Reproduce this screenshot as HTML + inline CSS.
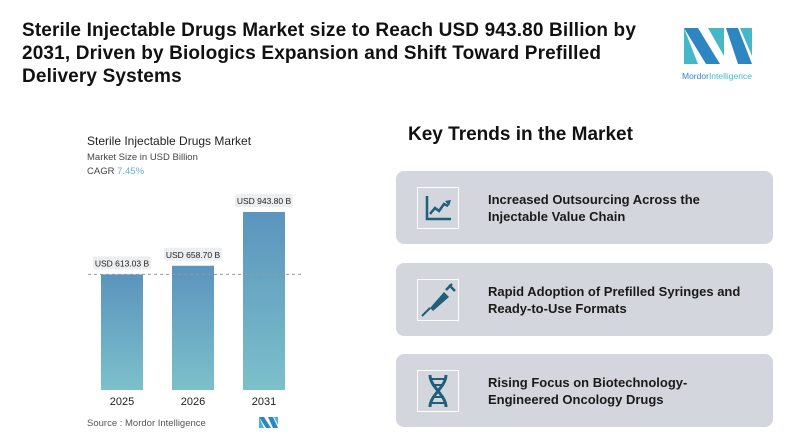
<!DOCTYPE html>
<html><head><meta charset="utf-8"><style>
body{margin:0;width:800px;height:446px;background:#fff;font-family:"Liberation Sans",sans-serif;overflow:hidden;position:relative}
.a{position:absolute}
.title{left:22px;top:19px;width:660px;font-weight:bold;font-size:19px;letter-spacing:0.15px;line-height:23px;color:#111;white-space:nowrap}
.card{left:396px;width:377px;height:73px;background:#d3d6dc;border-radius:8px}
.ib{left:21px;top:16px;width:40px;height:40px;border:1.5px solid #fff;background:#d3d6dc}
.ct{left:92px;top:20px;font-weight:bold;font-size:13px;line-height:17px;color:#1a1a1a}
</style></head><body>
<div class="a title">Sterile Injectable Drugs Market size to Reach USD 943.80 Billion by<br>2031, Driven by Biologics Expansion and Shift Toward Prefilled<br>Delivery Systems</div>
<svg class="a" style="left:680px;top:26px" width="90" height="60">
<polygon points="4,2 18,2 40,38 26,38" fill="#2e86c1"/><polygon points="4,2 4,38 18,38" fill="#45b8c8"/>
<polygon points="28,2 44,2 44,30" fill="#45b8c8"/><polygon points="46,2 58,2 72,38 58,38" fill="#2e86c1"/><polygon points="60,2 72,2 72,30" fill="#45b8c8"/>
<text x="2" y="53" font-size="8.5" fill="#2e86c1" font-family="Liberation Sans">Mordor<tspan fill="#45b8c8">Intelligence</tspan></text></svg>
<div class="a" style="left:87px;top:134px;font-size:12px;color:#222">Sterile Injectable Drugs Market</div>
<div class="a" style="left:87px;top:152px;font-size:9.5px;color:#444">Market Size in USD Billion</div>
<div class="a" style="left:87px;top:166px;font-size:9.5px;color:#444">CAGR <span style="color:#6ab0c8">7.45%</span></div>
<svg id="ch" class="a" style="left:0;top:0" width="400" height="446">
<defs><linearGradient id="g" x1="0" y1="0" x2="0" y2="1"><stop offset="0" stop-color="#5b94bd"/><stop offset="1" stop-color="#7cc0cb"/></linearGradient></defs>
<g><polygon points="259,417 264,417 271,428 266,428" fill="#2e86c1"/><polygon points="259,417 259,428 264,428" fill="#45b8c8"/><polygon points="268,417 273,417 278,428 273,428" fill="#2e86c1"/><polygon points="274,417 278,417 278,425" fill="#45b8c8"/></g>
</svg>
<div class="a" style="left:87px;top:418px;font-size:9.5px;color:#555">Source : Mordor Intelligence</div>
<div class="a" style="left:408px;top:124px;font-size:19px;font-weight:bold;color:#111">Key Trends in the Market</div>
<div class="a card" style="top:171px"><div class="a ib"><svg width="40" height="40"><path d="M9 8V31H33" stroke="#1f5f7a" stroke-width="2.5" fill="none"/><path d="M12 26L17 20L21 23L26 16L30 18" stroke="#1f5f7a" stroke-width="2.5" fill="none"/><polygon points="27,13 33,12 31,18" fill="#1f5f7a"/></svg></div><div class="a ct">Increased Outsourcing Across the<br>Injectable Value Chain</div></div>
<div class="a card" style="top:263px"><div class="a ib"><svg width="40" height="40"><path d="M4 36L12 28" stroke="#1f5f7a" stroke-width="2"/><path d="M12 28L26 12L31 17L15 31Z" fill="#1f5f7a"/><path d="M28 10L34 4M31 5L37 11" stroke="#1f5f7a" stroke-width="2.5"/></svg></div><div class="a ct">Rapid Adoption of Prefilled Syringes and<br>Ready-to-Use Formats</div></div>
<div class="a card" style="top:354px"><div class="a ib"><svg width="40" height="40"><path d="M12 4C12 16 28 24 28 36M28 4C28 16 12 24 12 36" stroke="#1f5f7a" stroke-width="3" fill="none"/><path d="M12 8H28M14 14H26M14 26H26M12 32H28" stroke="#1f5f7a" stroke-width="2"/></svg></div><div class="a ct">Rising Focus on Biotechnology-<br>Engineered Oncology Drugs</div></div>
<script>
const categories=["2025","2026","2031"];
const values=[613.03,658.70,943.80];
const valueLabels=["USD 613.03 B","USD 658.70 B","USD 943.80 B"];
const svg=document.getElementById('ch');const NS="http://www.w3.org/2000/svg";
const base=390,scale=178/943.8;
const y=v=>base-v*scale;const x=i=>101+i*71;const bw=42;
function mk(t,a){const e=document.createElementNS(NS,t);for(const k in a)e.setAttribute(k,a[k]);svg.appendChild(e);return e;}
values.forEach((v,i)=>{
const r=mk('rect',{x:x(i),y:y(v),width:bw,height:base-y(v),fill:'url(#g)'});


const w=58;
const b=mk('rect',{x:x(i)+bw/2-w/2,y:y(v)-18,width:w,height:13,fill:'#eceef0',rx:2});


const t=mk('text',{x:x(i)+bw/2,y:y(v)-8,'text-anchor':'middle','font-size':8.5,fill:'#222','font-family':'Liberation Sans'});
t.textContent=valueLabels[i];


const c=mk('text',{x:x(i)+bw/2,y:405,'text-anchor':'middle','font-size':11,fill:'#222','font-family':'Liberation Sans'});
c.textContent=categories[i];


});
const d=mk('line',{x1:88,x2:302,y1:y(values[0]),y2:y(values[0]),stroke:'#999','stroke-dasharray':'3,3'});


</script>
</body></html>
